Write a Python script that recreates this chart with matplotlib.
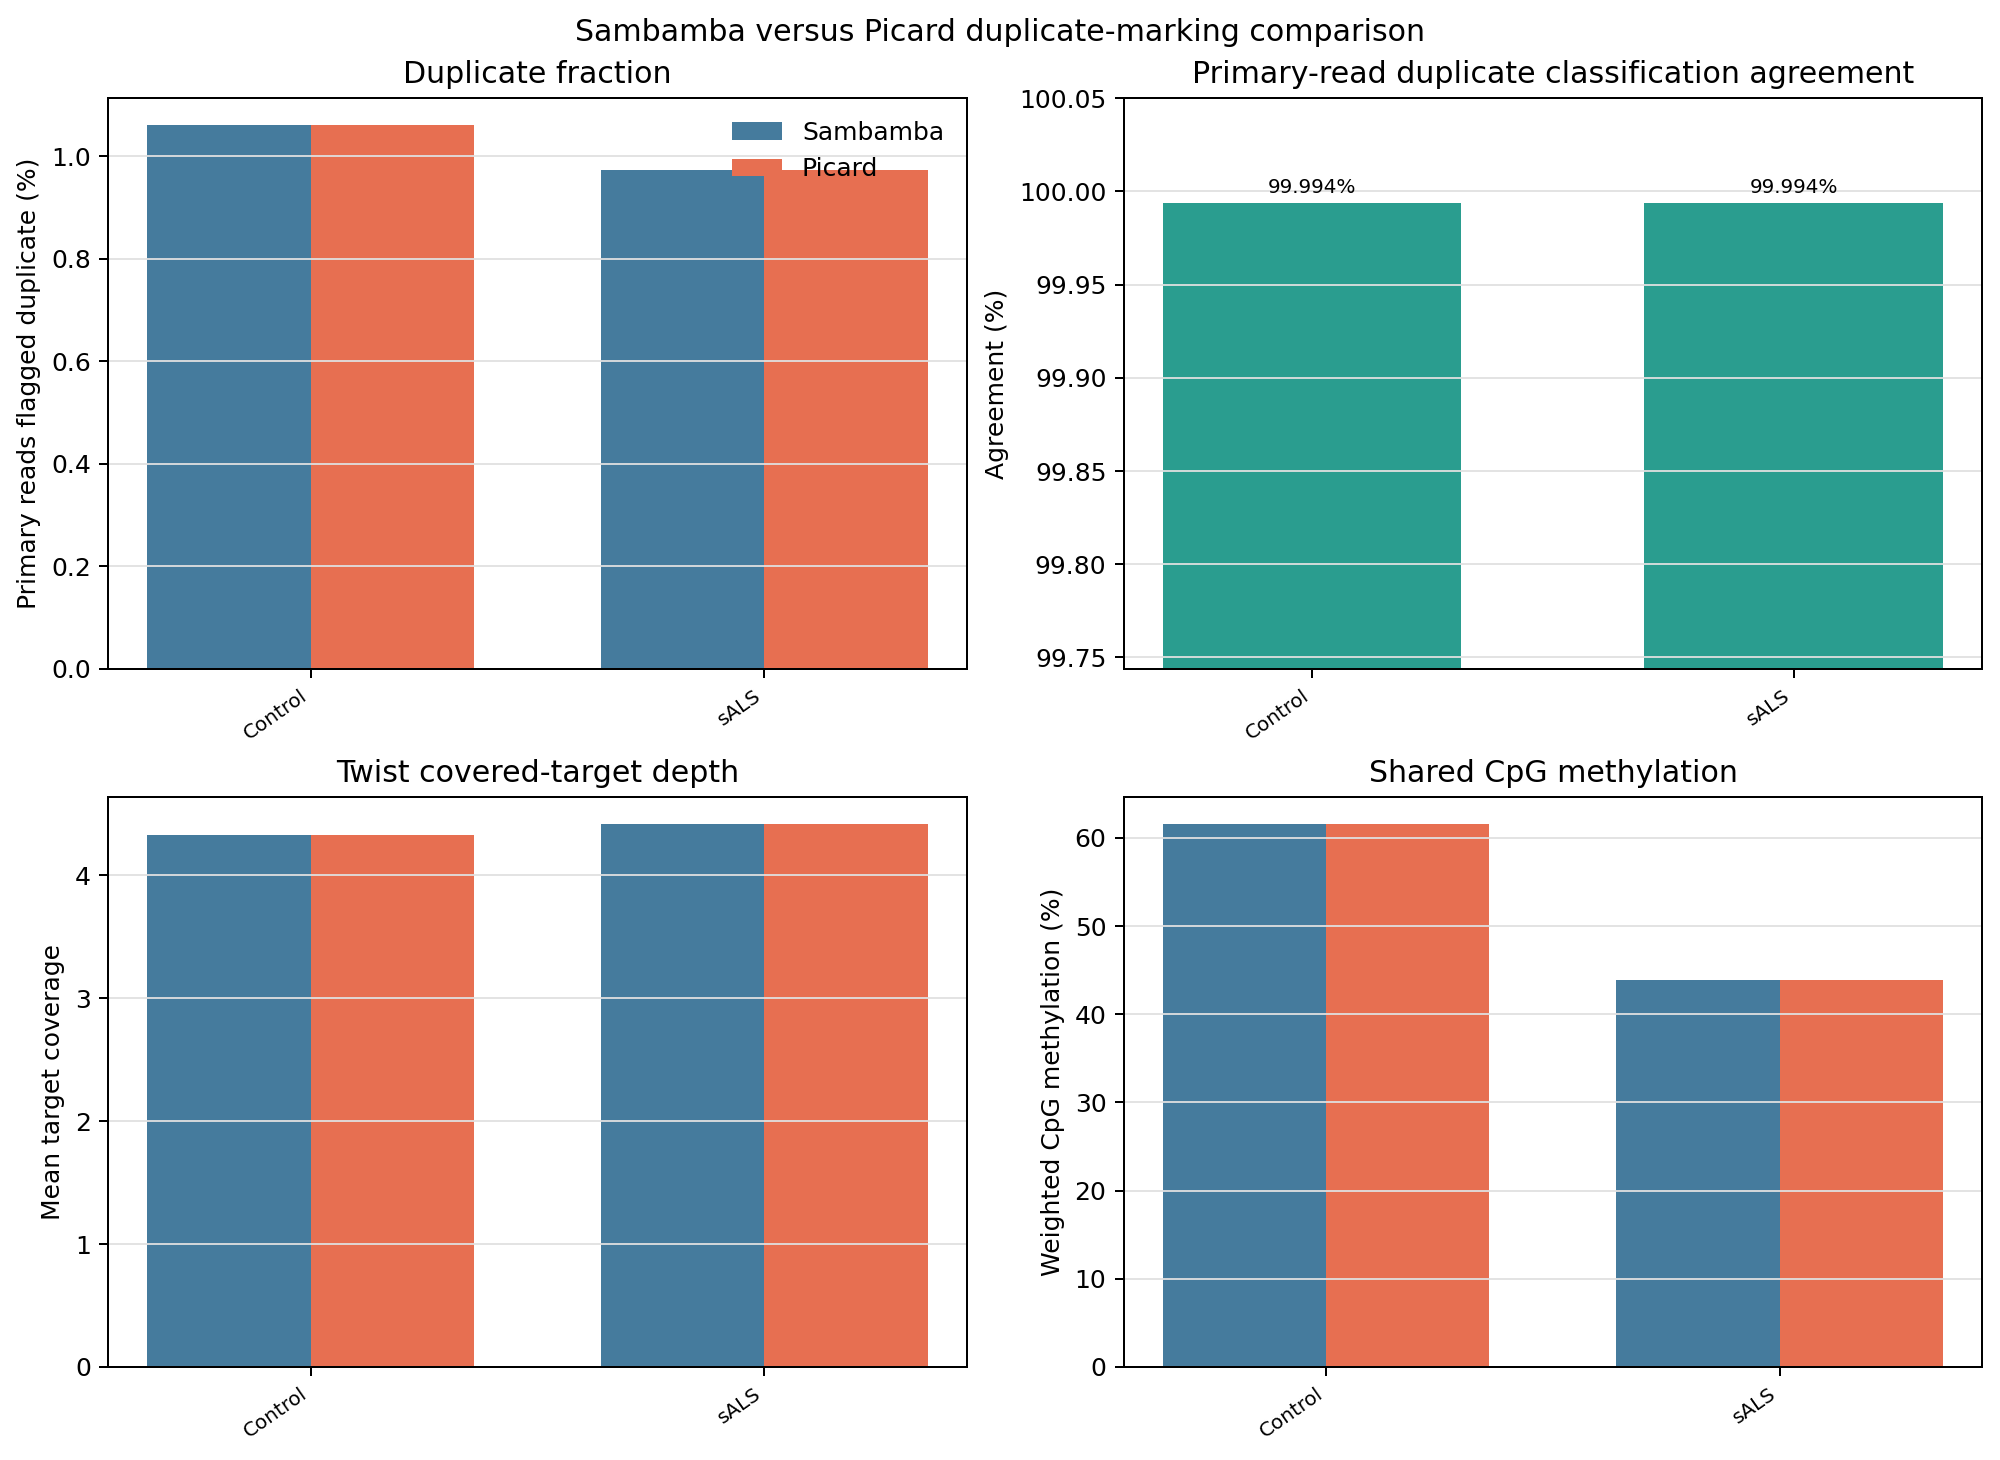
import matplotlib
matplotlib.use("Agg")
import matplotlib.pyplot as plt
import numpy as np

groups = ["Control", "sALS"]
tools = ["Sambamba", "Picard"]
dup_sambamba = [1.060, 0.973]
dup_picard = [1.060, 0.973]
agreement = [99.994, 99.994]
depth_sambamba = [4.33, 4.42]
depth_picard = [4.33, 4.42]
meth_sambamba = [61.6, 43.9]
meth_picard = [61.6, 43.9]

c_samb = "#457b9d"
c_pic = "#e76f51"
c_agree = "#2a9d8f"

DPI = 180
fig, axes = plt.subplots(2, 2, figsize=(2000 / DPI, 1460 / DPI), dpi=DPI)
fig.subplots_adjust(left=0.0542, right=0.991, top=0.9327, bottom=0.0637,
                    wspace=0.1834, hspace=0.2245)
x = np.arange(len(groups))
w = 0.36


def paired(ax, s, p, title, ylabel, legend=False):
    ax.bar(x - w / 2, s, w, color=c_samb, label=tools[0])
    ax.bar(x + w / 2, p, w, color=c_pic, label=tools[1])
    ax.set_title(title)
    ax.set_ylabel(ylabel)
    ax.set_xticks(x)
    ax.set_xticklabels(groups, rotation=35, ha="right", fontsize=8)
    ax.grid(axis="y", color="#e0e0e0", alpha=0.9, linewidth=0.8)
    if legend:
        ax.legend(frameon=False, loc="upper right")


paired(axes[0, 0], dup_sambamba, dup_picard, "Duplicate fraction",
       "Primary reads flagged duplicate (%)", legend=True)

ax = axes[0, 1]
ax.bar(x, agreement, 0.62, color=c_agree)
for xi, v in zip(x, agreement):
    ax.text(xi, v + 0.003, f"{v:.3f}%", ha="center", va="bottom", fontsize=8)
ax.set_ylim(min(agreement) - 0.25, 100.05)
ax.set_title("Primary-read duplicate classification agreement")
ax.set_ylabel("Agreement (%)")
ax.set_xticks(x)
ax.set_xticklabels(groups, rotation=35, ha="right", fontsize=8)
ax.grid(axis="y", color="#e0e0e0", alpha=0.9, linewidth=0.8)

paired(axes[1, 0], depth_sambamba, depth_picard, "Twist covered-target depth",
       "Mean target coverage")
paired(axes[1, 1], meth_sambamba, meth_picard, "Shared CpG methylation",
       "Weighted CpG methylation (%)")

fig.suptitle("Sambamba versus Picard duplicate-marking comparison",
             y=0.988, va="top")
fig.savefig("out.png", dpi=DPI)
